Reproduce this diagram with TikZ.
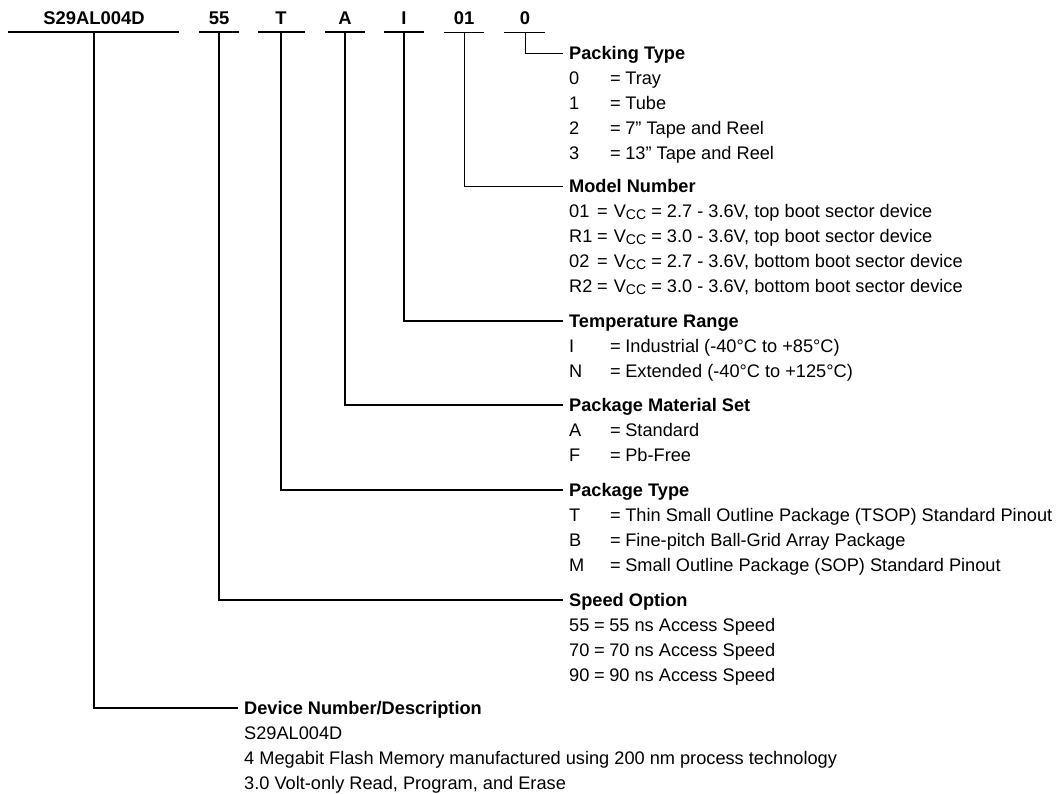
\documentclass[tikz,border=0pt]{standalone}
\usepackage{fontspec}
\setmainfont{Liberation Sans}
\newcommand\codeA[1]{\makebox[41pt][l]{#1}=\hspace{4.5pt}}
\newcommand\codeM[1]{\makebox[28pt][l]{#1}=\hspace{6pt}}
\newcommand\codeS[1]{\makebox[25pt][l]{#1}=\hspace{4.5pt}}
\newcommand\vcc{V\raisebox{-0.3ex}{\fontsize{14}{14}\selectfont CC}}
\begin{document}
\begin{tikzpicture}[x=1pt,y=-1pt,
  lbl/.style={font=\bfseries\fontsize{18.4}{22}\selectfont, anchor=base, inner sep=0pt},
  head/.style={font=\bfseries\fontsize{18.2}{22}\selectfont, anchor=west, inner sep=0pt, text height=13pt, text depth=0pt},
  entry/.style={font=\fontsize{18.2}{22}\selectfont, anchor=west, inner sep=0pt, text height=13pt, text depth=0pt},
  heavy/.style={line width=1.8pt},
  light/.style={line width=0.9pt}]
\useasboundingbox (0,0) rectangle (1057,793);
% top labels
\node[lbl] (lS) at (94,24) {S29AL004D};
\node[lbl] (l55) at (219,24) {55};
\node[lbl] (lT) at (281,24) {T};
\node[lbl] (lA) at (345,24) {A};
\node[lbl] (lI) at (404,24) {I};
\node[lbl] (l01) at (464,24) {01};
\node[lbl] (l0) at (525,24) {0};
% underlines
\draw[heavy] (8,32) -- (179,32);
\draw[heavy] (199,32) -- (239,32);
\draw[heavy] (258,32) -- (305,32);
\draw[heavy] (325,32) -- (365,32);
\draw[heavy] (384,32) -- (424,32);
\draw[light] (444,32) -- (484,32);
\draw[light] (504,32) -- (545,32);
\coordinate (vS) at (94,32);
\coordinate (v55) at (219,32);
\coordinate (vT) at (281,32);
\coordinate (vA) at (345,32);
\coordinate (vI) at (404,32);
\coordinate (v01) at (464,32);
\coordinate (v0) at (525,32);
% Packing type
\node[head] (hPack) at (569,53) {Packing Type};
\node[entry] (p0) at (569,77.5) {\codeA{0}Tray};
\node[entry] (p1) at (569,102.5) {\codeA{1}Tube};
\node[entry] (p2) at (569,127.5) {\codeA{2}7” Tape and Reel};
\node[entry] (p3) at (569,152.5) {\codeA{3}13” Tape and Reel};
% Model number
\node[head] (hModel) at (569,186) {Model Number};
\node[entry] (m1) at (569,210.5) {\codeM{01}\vcc{} = 2.7 - 3.6V, top boot sector device};
\node[entry] (m2) at (569,235.5) {\codeM{R1}\vcc{} = 3.0 - 3.6V, top boot sector device};
\node[entry] (m3) at (569,260.5) {\codeM{02}\vcc{} = 2.7 - 3.6V, bottom boot sector device};
\node[entry] (m4) at (569,285.5) {\codeM{R2}\vcc{} = 3.0 - 3.6V, bottom boot sector device};
% Temperature
\node[head] (hTemp) at (569,321) {Temperature Range};
\node[entry] (t1) at (569,345.5) {\codeA{I}Industrial (-40°C to +85°C)};
\node[entry] (t2) at (569,370.5) {\codeA{N}Extended (-40°C to +125°C)};
% Material
\node[head] (hMat) at (569,405) {Package Material Set};
\node[entry] (a1) at (569,429.5) {\codeA{A}Standard};
\node[entry] (a2) at (569,454.5) {\codeA{F}Pb-Free};
% Package type
\node[head] (hPkg) at (569,490) {Package Type};
\node[entry] (k1) at (569,514.5) {\codeA{T}Thin Small Outline Package (TSOP) Standard Pinout};
\node[entry] (k2) at (569,539.5) {\codeA{B}Fine-pitch Ball-Grid Array Package};
\node[entry] (k3) at (569,564.5) {\codeA{M}Small Outline Package (SOP) Standard Pinout};
% Speed
\node[head] (hSpeed) at (569,600) {Speed Option};
\node[entry] (s1) at (569,624.5) {\codeS{55}55 ns Access Speed};
\node[entry] (s2) at (569,649.5) {\codeS{70}70 ns Access Speed};
\node[entry] (s3) at (569,674.5) {\codeS{90}90 ns Access Speed};
% Device
\node[head] (hDev) at (244,708) {Device Number/Description};
\node[entry] (d1) at (244,732.5) {S29AL004D};
\node[entry] (d2) at (244,757.5) {4 Megabit Flash Memory manufactured using 200 nm process technology};
\node[entry] (d3) at (244,782.5) {3.0 Volt-only Read, Program, and Erase};
% connectors
\draw[light] (v0) |- ([xshift=-6pt]hPack.west);
\draw[light] (v01) |- ([xshift=-6pt]hModel.west);
\draw[heavy] (vI) |- ([xshift=-6pt]hTemp.west);
\draw[heavy] (vA) |- ([xshift=-6pt]hMat.west);
\draw[heavy] (vT) |- ([xshift=-6pt]hPkg.west);
\draw[heavy] (v55) |- ([xshift=-6pt]hSpeed.west);
\draw[heavy] (vS) |- ([xshift=-6pt]hDev.west);
\end{tikzpicture}
\end{document}
